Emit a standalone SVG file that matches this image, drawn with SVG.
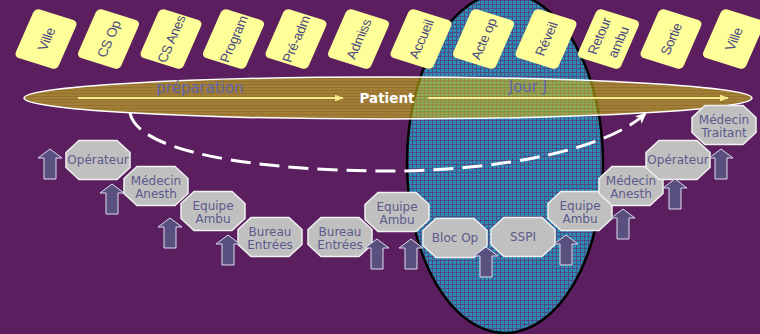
<svg xmlns="http://www.w3.org/2000/svg" width="760" height="334" viewBox="0 0 760 334">
  <defs>
    <!-- mesh texture of the "day J" zone -->
    <pattern id="mesh" width="4" height="4" patternUnits="userSpaceOnUse">
      <rect width="4" height="4" fill="#2b8cb4"/>
      <rect width="4" height="1" fill="#4f4a84"/>
      <rect width="1" height="4" fill="#4f4a84"/>
    </pattern>
    <!-- fine horizontal stripes on the patient band -->
    <pattern id="stripes" width="4" height="3" patternUnits="userSpaceOnUse">
      <rect width="4" height="1" fill="#000" fill-opacity="0.1"/>
    </pattern>
    <marker id="headY" markerWidth="9" markerHeight="8" refX="8" refY="4" orient="auto" markerUnits="userSpaceOnUse">
      <path d="M0,0.8 L9,4 L0,7.2 Z" fill="#f6ec8c"/>
    </marker>
    <marker id="headW" markerWidth="12" markerHeight="12" refX="9" refY="6" orient="auto" markerUnits="userSpaceOnUse">
      <path d="M0,1 L11,6 L0,11 L2.5,6 Z" fill="#ffffff"/>
    </marker>
    <rect id="card" x="-22.5" y="-26.5" width="45" height="53" rx="5"/>
    <polygon id="oct" points="-19,-19.5 19,-19.5 32,-7.5 32,7.5 19,19.5 -19,19.5 -32,7.5 -32,-7.5"/>
    <path id="up" d="M0,0 L12,9 L6,9 L6,30 L-6,30 L-6,9 L-12,9 Z"/>
  </defs>
  <style>
    .card use { fill: #ffff99; }
    .ct { font-family: "Liberation Sans", Arial, sans-serif; font-size: 13.5px; letter-spacing: -0.3px; fill: #4c4c80; text-anchor: middle; }
    .oct use { fill: #c0c0c0; stroke: #f0f0f0; stroke-width: 1.5; }
    .ot { font-family: "DejaVu Sans", Verdana, sans-serif; font-size: 12px; fill: #5c5a8c; text-anchor: middle; }
    .up use { fill: #595080; stroke: #dcdcec; stroke-width: 1; }
    .bt { font-family: "DejaVu Sans", Verdana, sans-serif; font-size: 15px; fill: #6464aa; text-anchor: middle; }
  </style>

  <!-- background -->
  <rect width="760" height="334" fill="#5b1f5f"/>

  <!-- day J zone -->
  <g id="zone-jour-j">
    <ellipse cx="505" cy="163" rx="98" ry="170" fill="url(#mesh)" stroke="#000" stroke-width="2.5"/>
  </g>

  <!-- step cards along the top -->
  <g id="steps">
    <g id="step-ville-1" class="card" transform="matrix(0.954,0.299,-0.402,0.916,46,39)">
      <use href="#card"/><text class="ct" transform="rotate(-90)" y="5">Ville</text>
    </g>
    <g id="step-cs-op" class="card" transform="matrix(0.954,0.299,-0.402,0.916,108.5,39)">
      <use href="#card"/><text class="ct" transform="rotate(-90)" y="5">CS Op</text>
    </g>
    <g id="step-cs-anes" class="card" transform="matrix(0.954,0.299,-0.402,0.916,171,39)">
      <use href="#card"/><text class="ct" transform="rotate(-90)" y="5">CS Anes</text>
    </g>
    <g id="step-program" class="card" transform="matrix(0.954,0.299,-0.402,0.916,233.5,39)">
      <use href="#card"/><text class="ct" transform="rotate(-90)" y="5">Program</text>
    </g>
    <g id="step-pre-adm" class="card" transform="matrix(0.954,0.299,-0.402,0.916,296,39)">
      <use href="#card"/><text class="ct" transform="rotate(-90)" y="5">Pré-adm</text>
    </g>
    <g id="step-admiss" class="card" transform="matrix(0.954,0.299,-0.402,0.916,358.5,39)">
      <use href="#card"/><text class="ct" transform="rotate(-90)" y="5">Admiss</text>
    </g>
    <g id="step-accueil" class="card" transform="matrix(0.954,0.299,-0.402,0.916,421,39)">
      <use href="#card"/><text class="ct" transform="rotate(-90)" y="5">Accueil</text>
    </g>
    <g id="step-acte-op" class="card" transform="matrix(0.954,0.299,-0.402,0.916,483.5,39)">
      <use href="#card"/><text class="ct" transform="rotate(-90)" y="5">Acte op</text>
    </g>
    <g id="step-reveil" class="card" transform="matrix(0.954,0.299,-0.402,0.916,546,39)">
      <use href="#card"/><text class="ct" transform="rotate(-90)" y="5">Réveil</text>
    </g>
    <g id="step-retour-ambu" class="card" transform="matrix(0.954,0.299,-0.402,0.916,608.5,39)">
      <use href="#card"/>
      <text class="ct" transform="rotate(-90)"><tspan x="0" y="-5">Retour</tspan><tspan x="0" y="15">ambu</tspan></text>
    </g>
    <g id="step-sortie" class="card" transform="matrix(0.954,0.299,-0.402,0.916,671,39)">
      <use href="#card"/><text class="ct" transform="rotate(-90)" y="5">Sortie</text>
    </g>
    <g id="step-ville-2" class="card" transform="matrix(0.954,0.299,-0.402,0.916,733.5,39)">
      <use href="#card"/><text class="ct" transform="rotate(-90)" y="5">Ville</text>
    </g>
  </g>

  <!-- patient band -->
  <g id="patient-band">
    <ellipse cx="388" cy="98" rx="364" ry="21" fill="#d8c418" fill-opacity="0.58"/>
    <ellipse cx="388" cy="98" rx="364" ry="21" fill="url(#stripes)" stroke="#ffffff" stroke-width="1.5"/>
    <text class="bt" x="200" y="93">préparation</text>
    <text class="bt" x="528" y="92" font-size="16">Jour J</text>
    <text x="387" y="103" font-family="'DejaVu Sans', Verdana, sans-serif" font-size="13.5" font-weight="bold" fill="#ffffff" text-anchor="middle">Patient</text>
  </g>

  <!-- connectors -->
  <g id="connectors" fill="none">
    <line x1="78" y1="98" x2="343" y2="98" stroke="#f6ec8c" stroke-width="2" marker-end="url(#headY)"/>
    <line x1="428" y1="98" x2="728" y2="98" stroke="#f6ec8c" stroke-width="2" marker-end="url(#headY)"/>
    <path d="M130,113 C140,160 300,172 400,171 C505,169 605,150 645,114" stroke="#ffffff" stroke-width="3" stroke-dasharray="20 9" marker-end="url(#headW)"/>
  </g>

  <!-- actors -->
  <g id="actors" class="oct">
    <g id="n-operateur-1" transform="translate(98,160)">
      <use href="#oct"/><text class="ot" y="4">Opérateur</text>
    </g>
    <g id="n-medecin-anesth-1" transform="translate(156,186)">
      <use href="#oct"/><text class="ot"><tspan x="0" y="-1">Médecin</tspan><tspan x="0" y="12">Anesth</tspan></text>
    </g>
    <g id="n-equipe-ambu-1" transform="translate(213,211)">
      <use href="#oct"/><text class="ot"><tspan x="0" y="-1">Equipe</tspan><tspan x="0" y="12">Ambu</tspan></text>
    </g>
    <g id="n-bureau-entrees-1" transform="translate(270,237)">
      <use href="#oct"/><text class="ot"><tspan x="0" y="-1">Bureau</tspan><tspan x="0" y="12">Entrées</tspan></text>
    </g>
    <g id="n-bureau-entrees-2" transform="translate(340,237)">
      <use href="#oct"/><text class="ot"><tspan x="0" y="-1">Bureau</tspan><tspan x="0" y="12">Entrées</tspan></text>
    </g>
    <g id="n-equipe-ambu-2" transform="translate(397,212)">
      <use href="#oct"/><text class="ot"><tspan x="0" y="-1">Equipe</tspan><tspan x="0" y="12">Ambu</tspan></text>
    </g>
    <g id="n-bloc-op" transform="translate(455,238)">
      <use href="#oct"/><text class="ot" y="4">Bloc Op</text>
    </g>
    <g id="n-sspi" transform="translate(523,237)">
      <use href="#oct"/><text class="ot" y="4">SSPI</text>
    </g>
    <g id="n-equipe-ambu-3" transform="translate(580,211)">
      <use href="#oct"/><text class="ot"><tspan x="0" y="-1">Equipe</tspan><tspan x="0" y="12">Ambu</tspan></text>
    </g>
    <g id="n-medecin-anesth-2" transform="translate(631,186)">
      <use href="#oct"/><text class="ot"><tspan x="0" y="-1">Médecin</tspan><tspan x="0" y="12">Anesth</tspan></text>
    </g>
    <g id="n-operateur-2" transform="translate(678,160)">
      <use href="#oct"/><text class="ot" y="4">Opérateur</text>
    </g>
    <g id="n-medecin-traitant" transform="translate(724,125)">
      <use href="#oct"/><text class="ot"><tspan x="0" y="-1">Médecin</tspan><tspan x="0" y="12">Traitant</tspan></text>
    </g>
  </g>

  <!-- upward block arrows -->
  <g id="up-arrows" class="up">
    <use href="#up" x="50" y="149"/>
    <use href="#up" x="112" y="184"/>
    <use href="#up" x="170" y="218"/>
    <use href="#up" x="228" y="235"/>
    <use href="#up" x="377" y="239"/>
    <use href="#up" x="411" y="239"/>
    <use href="#up" x="486" y="247"/>
    <use href="#up" x="566" y="235"/>
    <use href="#up" x="623" y="209"/>
    <use href="#up" x="675" y="179"/>
    <use href="#up" x="721" y="149"/>
  </g>
</svg>
